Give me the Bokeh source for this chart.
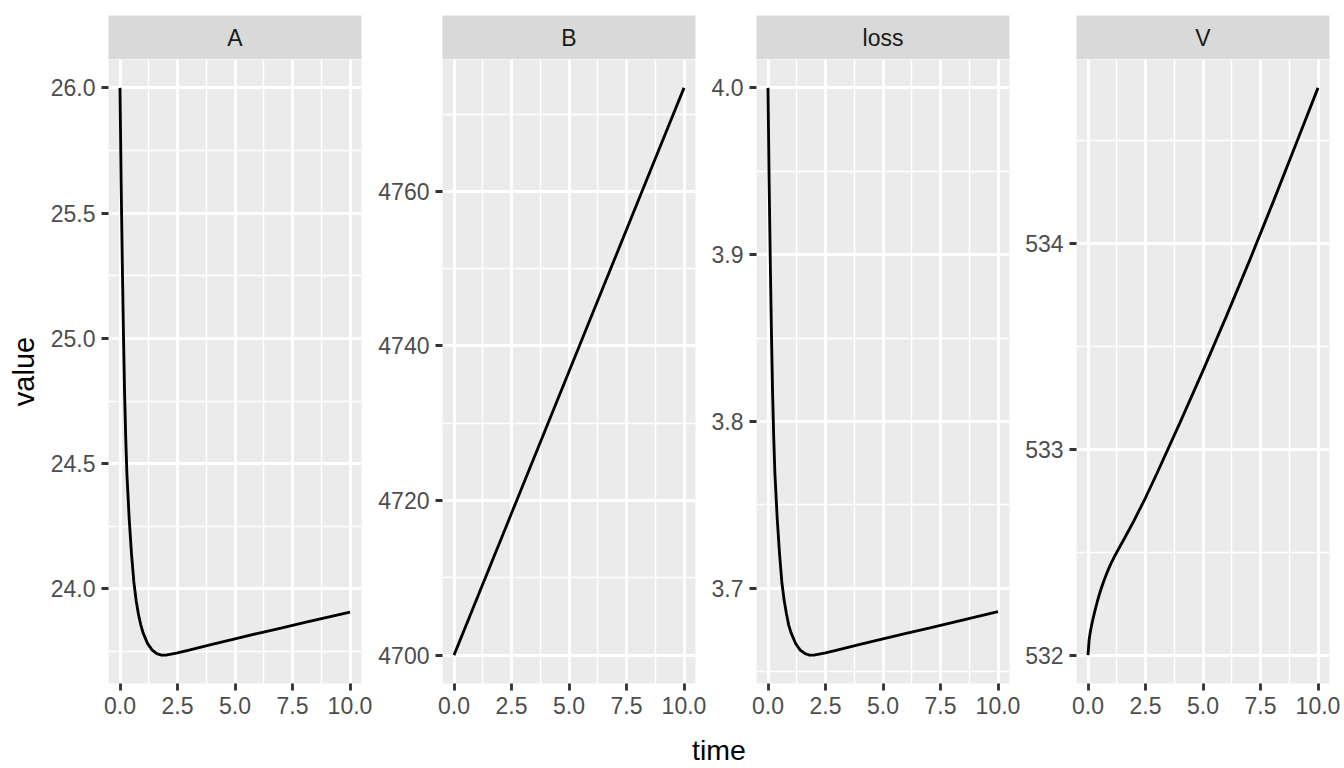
from bokeh.plotting import figure
from bokeh.layouts import row, column
from bokeh.models import Range1d, FixedTicker, CustomJSTickFormatter, ColumnDataSource
from bokeh.core.properties import value
from bokeh.embed import file_html
from bokeh.resources import INLINE

# ---------------- data ----------------
time = [0, 0.05, 0.1, 0.15, 0.2, 0.25, 0.3, 0.4, 0.5, 0.6, 0.7, 0.8, 0.9, 1.0,
        1.2, 1.4, 1.6, 1.8, 2.0, 2.5, 3.0, 4.0, 5.0, 6.0, 7.0, 8.0, 9.0, 10.0]

A_values = [26.000, 25.62, 25.30, 25.02, 24.78, 24.60, 24.46, 24.28, 24.14, 24.03,
            23.955, 23.90, 23.858, 23.826, 23.782, 23.756, 23.742, 23.736, 23.736,
            23.745, 23.756, 23.779, 23.801, 23.823, 23.844, 23.866, 23.887, 23.908]

B_values = [4700.0, 4700.37, 4700.73, 4701.10, 4701.47, 4701.84, 4702.20, 4702.94,
            4703.67, 4704.40, 4705.14, 4705.87, 4706.61, 4707.34, 4708.81, 4710.28,
            4711.74, 4713.21, 4714.68, 4718.35, 4722.02, 4729.36, 4736.70, 4744.04,
            4751.38, 4758.72, 4766.06, 4773.40]

loss_values = [4.000, 3.943, 3.895, 3.853, 3.817, 3.790, 3.769, 3.742, 3.721, 3.704,
               3.693, 3.685, 3.678, 3.6735, 3.667, 3.663, 3.661, 3.660, 3.660,
               3.6613, 3.663, 3.6664, 3.6697, 3.673, 3.6762, 3.6795, 3.6828, 3.6861]

V_values = [532.000, 532.075, 532.112, 532.142, 532.168, 532.192, 532.215, 532.258,
            532.297, 532.332, 532.364, 532.393, 532.42, 532.445, 532.489, 532.53,
            532.57, 532.611, 532.653, 532.764, 532.883, 533.129, 533.381, 533.641,
            533.909, 534.186, 534.469, 534.754]

panel_names = ["A", "B", "loss", "V"]

x_ticks = [0, 2.5, 5, 7.5, 10]
x_tick_labels = ["0.0", "2.5", "5.0", "7.5", "10.0"]
x_minor = [1.25, 3.75, 6.25, 8.75]

A_ticks = [24.0, 24.5, 25.0, 25.5, 26.0]
A_tick_labels = ["24.0", "24.5", "25.0", "25.5", "26.0"]
A_minor = [23.75, 24.25, 24.75, 25.25, 25.75]

B_ticks = [4700, 4720, 4740, 4760]
B_tick_labels = ["4700", "4720", "4740", "4760"]
B_minor = [4710, 4730, 4750, 4770]

loss_ticks = [3.7, 3.8, 3.9, 4.0]
loss_tick_labels = ["3.7", "3.8", "3.9", "4.0"]
loss_minor = [3.65, 3.75, 3.85, 3.95]

V_ticks = [532, 533, 534]
V_tick_labels = ["532", "533", "534"]
V_minor = [532.5, 533.5, 534.5]

x_title = "time"
y_title = "value"

# ---------------- styling / layout ----------------
FONT = "Liberation Sans"
PANEL_W = 253
PANEL_H = 624
STRIP_H = 44
BORDER_TOP = 15
BORDER_BOTTOM = 39
LEFT_BORDERS = [108, 68, 48, 54]
RIGHT_BORDERS = [13, 13, 13, 15]
TIME_H = 45
MAJOR_W = 2.84
MINOR_W = 1.42


def expand(vals, mult=0.05):
    lo, hi = min(vals), max(vals)
    d = (hi - lo) * mult
    return lo - d, hi + d


def label_formatter(vals, labels):
    return CustomJSTickFormatter(
        args=dict(vals=list(vals), labels=list(labels)),
        code="""
        let best = 0;
        for (let i = 0; i < vals.length; i++) {
            if (Math.abs(vals[i] - tick) < Math.abs(vals[best] - tick)) best = i;
        }
        return labels[best];
        """)


def make_strip(name, border_left, border_right):
    s = figure(frame_width=PANEL_W, frame_height=STRIP_H,
               x_range=Range1d(0, 1), y_range=Range1d(0, 1),
               output_backend="svg", toolbar_location=None, title=None,
               x_axis_location=None, y_axis_location=None,
               min_border_left=border_left, min_border_right=border_right,
               min_border_top=BORDER_TOP, min_border_bottom=0)
    s.background_fill_color = "#D9D9D9"
    s.border_fill_color = "white"
    s.outline_line_color = None
    s.grid.grid_line_color = None
    s.text(x=[0.5], y=[0.5], text=[name],
           text_font=value(FONT), text_font_size="23px", text_color="#1A1A1A",
           text_align="center", text_baseline="middle")
    return s


def make_panel(yvals, ticks, tlabels, minor, border_left, border_right, ylabel=None):
    xlo, xhi = expand(time)
    ylo, yhi = expand(yvals)
    p = figure(frame_width=PANEL_W, frame_height=PANEL_H,
               x_range=Range1d(xlo, xhi), y_range=Range1d(ylo, yhi),
               output_backend="svg", toolbar_location=None, title=None,
               min_border_left=border_left, min_border_right=border_right,
               min_border_top=0, min_border_bottom=BORDER_BOTTOM)
    p.background_fill_color = "#EBEBEB"
    p.border_fill_color = "white"
    p.outline_line_color = None

    # grids
    p.xgrid.ticker = FixedTicker(ticks=x_ticks, minor_ticks=x_minor)
    p.ygrid.ticker = FixedTicker(ticks=ticks, minor_ticks=minor)
    for g in (p.xgrid[0], p.ygrid[0]):
        g.grid_line_color = "white"
        g.grid_line_width = MAJOR_W
        g.minor_grid_line_color = "white"
        g.minor_grid_line_width = MINOR_W

    # axes
    p.xaxis.ticker = FixedTicker(ticks=x_ticks)
    p.xaxis.formatter = label_formatter(x_ticks, x_tick_labels)
    p.yaxis.ticker = FixedTicker(ticks=ticks)
    p.yaxis.formatter = label_formatter(ticks, tlabels)
    for ax in (p.xaxis[0], p.yaxis[0]):
        ax.axis_line_color = None
        ax.major_tick_line_color = "#333333"
        ax.major_tick_line_width = MAJOR_W
        ax.major_tick_out = 7
        ax.major_tick_in = 0
        ax.minor_tick_line_color = None
        ax.major_label_text_font = FONT
        ax.major_label_text_font_size = "23px"
        ax.major_label_text_color = "#4D4D4D"
        ax.major_label_standoff = 6
    if ylabel is not None:
        ya = p.yaxis[0]
        ya.axis_label = ylabel
        ya.axis_label_text_font = FONT
        ya.axis_label_text_font_size = "29px"
        ya.axis_label_text_font_style = "normal"
        ya.axis_label_text_color = "black"
        ya.axis_label_standoff = 8

    # data line
    src = ColumnDataSource(dict(time=time, value=yvals))
    p.line(x="time", y="value", source=src, line_color="black", line_width=MAJOR_W)
    return p


series = [A_values, B_values, loss_values, V_values]
tick_sets = [(A_ticks, A_tick_labels, A_minor), (B_ticks, B_tick_labels, B_minor),
             (loss_ticks, loss_tick_labels, loss_minor), (V_ticks, V_tick_labels, V_minor)]

cols = []
for i, (name, yv, (tk, tl, mn), bl, br) in enumerate(
        zip(panel_names, series, tick_sets, LEFT_BORDERS, RIGHT_BORDERS)):
    strip = make_strip(name, bl, br)
    panel = make_panel(yv, tk, tl, mn, bl, br, ylabel=y_title if i == 0 else None)
    cols.append(column(strip, panel, spacing=0))

total_w = sum(LEFT_BORDERS) + 4 * PANEL_W + sum(RIGHT_BORDERS)
timefig = figure(width=total_w, height=TIME_H, x_range=Range1d(0, total_w),
                 y_range=Range1d(0, TIME_H), output_backend="svg",
                 toolbar_location=None, title=None,
                 x_axis_location=None, y_axis_location=None, min_border=0)
timefig.outline_line_color = None
timefig.background_fill_color = "white"
timefig.border_fill_color = "white"
timefig.grid.grid_line_color = None
timefig.text(x=[718.5], y=[TIME_H - 27], text=[x_title],
             text_font=value(FONT), text_font_size="28.5px", text_color="black",
             text_align="center", text_baseline="alphabetic")

layout = column(row(*cols, spacing=0), timefig, spacing=0)

open("out.html", "w").write(file_html(layout, INLINE))
